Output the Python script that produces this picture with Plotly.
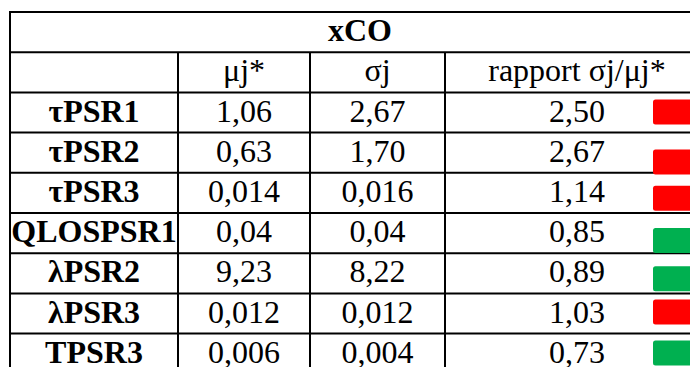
import plotly.graph_objects as go

# ---- data ----
title = "xCO"
col_headers = ["", "μj*", "σj", "rapport σj/μj*"]
params = ["τPSR1", "τPSR2", "τPSR3", "QLOSPSR1", "λPSR2", "λPSR3", "TPSR3"]
mu_star = ["1,06", "0,63", "0,014", "0,04", "9,23", "0,012", "0,006"]
sigma = ["2,67", "1,70", "0,016", "0,04", "8,22", "0,012", "0,004"]
ratio = ["2,50", "2,67", "1,14", "0,85", "0,89", "1,03", "0,73"]
flag = ["bad", "bad", "bad", "good", "good", "bad", "good"]

# ---- style / layout (coordinates in screen pixels) ----
W, H = 698, 367
PAGE_OFF = 8  # body margin of the html page
col_edges = [10, 178, 310, 445, 708]
top = 12
row_h = 40.2
flag_colors = {"bad": "#FF0000", "good": "#00B050"}
sq_offset = [7, 17, 13, 15, 13, 6, 7]   # icon vertical offsets inside cell
sq_w, sq_h, sq_x0 = 40, 25, 653
FONT = "Liberation Serif, Times New Roman, serif"
FS = 32

n_rows = 2 + len(params)
row_edges = [top + i * row_h for i in range(n_rows + 1)]
centers_x = [(col_edges[i] + col_edges[i + 1]) / 2 for i in range(4)]
centers_x[3] = 577

fig = go.Figure()
shapes = []
line = dict(color="black", width=2)
for y in row_edges:
    shapes.append(dict(type="line", xref="x", yref="y", x0=col_edges[0] - 1, x1=col_edges[-1],
                       y0=y, y1=y, line=line))
shapes.append(dict(type="line", xref="x", yref="y", x0=col_edges[0], x1=col_edges[0],
                   y0=row_edges[0], y1=row_edges[-1], line=line))
for x in col_edges[1:]:
    shapes.append(dict(type="line", xref="x", yref="y", x0=x, x1=x,
                       y0=row_edges[1], y1=row_edges[-1], line=line))
shapes.append(dict(type="line", xref="x", yref="y", x0=col_edges[-1], x1=col_edges[-1],
                   y0=row_edges[0], y1=row_edges[1], line=line))

r = 2.5
for i, f in enumerate(flag):
    y0 = row_edges[2 + i] + sq_offset[i]
    y1 = y0 + sq_h
    x0 = sq_x0
    x1 = x0 + sq_w
    path = (f"M {x0+r},{y0} L {x1-r},{y0} Q {x1},{y0} {x1},{y0+r} L {x1},{y1-r} "
            f"Q {x1},{y1} {x1-r},{y1} L {x0+r},{y1} Q {x0},{y1} {x0},{y1-r} "
            f"L {x0},{y0+r} Q {x0},{y0} {x0+r},{y0} Z")
    shapes.append(dict(type="path", xref="x", yref="y", path=path,
                       fillcolor=flag_colors[f], line=dict(width=0)))

def ymid(k):
    return (row_edges[k] + row_edges[k + 1]) / 2 + 1

tf = dict(family=FONT, size=FS, color="black")
fig.add_trace(go.Scatter(x=[360], y=[ymid(0)], mode="text",
                         text=[f"<b>{title}</b>"], textposition="middle center",
                         textfont=tf, hoverinfo="skip", showlegend=False))
fig.add_trace(go.Scatter(x=centers_x[1:], y=[ymid(1)] * 3, mode="text",
                         text=col_headers[1:], textposition="middle center",
                         textfont=tf, hoverinfo="skip", showlegend=False))
ys = [ymid(2 + i) for i in range(len(params))]
fig.add_trace(go.Scatter(x=[centers_x[0]] * len(params), y=ys, mode="text",
                         text=[f"<b>{p}</b>" for p in params], textposition="middle center",
                         textfont=tf, hoverinfo="skip", showlegend=False))
for ci, col in enumerate([mu_star, sigma, ratio]):
    fig.add_trace(go.Scatter(x=[centers_x[ci + 1]] * len(col), y=ys, mode="text",
                             text=col, textposition="middle center",
                             textfont=tf, hoverinfo="skip", showlegend=False))

fig.update_layout(
    width=W, height=H, margin=dict(l=0, r=0, t=0, b=0),
    paper_bgcolor="white", plot_bgcolor="white",
    xaxis=dict(range=[PAGE_OFF, W + PAGE_OFF], visible=False, fixedrange=True),
    yaxis=dict(range=[H + PAGE_OFF, PAGE_OFF], visible=False, fixedrange=True),
    shapes=shapes, showlegend=False,
)
fig.write_html("out.html")
